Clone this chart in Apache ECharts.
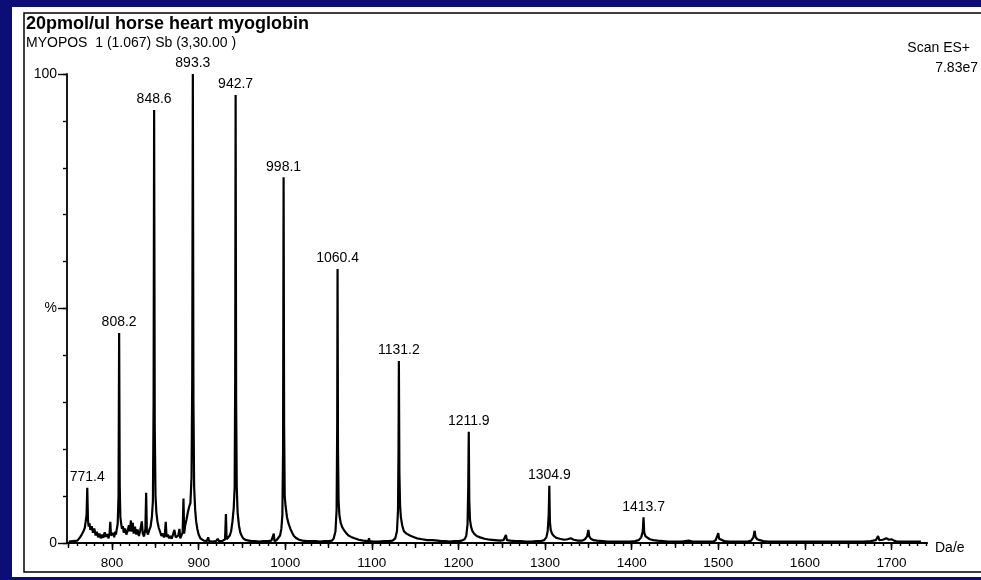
<!DOCTYPE html>
<html>
<head>
<meta charset="utf-8">
<script src="https://cdn.jsdelivr.net/npm/echarts/dist/echarts.min.js"></script>
<style>html,body{margin:0;padding:0;background:#0d0d78;}#c{width:981px;height:580px;}</style>
</head>
<body>
<div id="c"></div>
<script>
// ---- data ----
var titleText = '20pmol/ul horse heart myoglobin';
var subtitleText = 'MYOPOS  1 (1.067) Sb (3,30.00 )';
var scanText = 'Scan ES+';
var scaleText = '7.83e7';
var xUnitText = 'Da/e';

var xTickLabels = [800, 900, 1000, 1100, 1200, 1300, 1400, 1500, 1600, 1700];
var yTickLabels = [0, 50, 100];
var yTickNames = ['0', '%', '100'];

// labelled peaks
var peakMz = [771.4, 808.2, 848.6, 893.3, 942.7, 998.1, 1060.4, 1131.2, 1211.9, 1304.9, 1413.7];
var peakIntensity = [11.8, 44.8, 92.3, 100, 95.5, 78.0, 58.4, 38.8, 23.7, 12.2, 5.5];

// profile trace (m/z, % intensity)
var profileMz = [
 750,755,760,763,765,767,768.5,769.5,770.6,771.4,772.2,773,774,775,776.5,778,779.5,781,782.5,784,785.5,787,788.5,790,791.5,793,794.5,796,797.2,798,798.8,800,801.5,802.5,803.5,804.5,805.5,806.5,807.5,808.2,808.9,809.6,810.5,811.5,812.5,813.5,815,816.5,818,819.5,820.5,821.8,822.8,824,825,826.5,828,829.5,831,832.5,834.4,835.5,837,838.5,839.4,840.2,841.5,843,844.5,846,847.2,848,848.6,849.3,850.2,851.2,852.5,854,855.5,857,858.5,860,861,862,863,864.5,866,867.5,869,870.5,872,872.8,873.5,875,876.5,877.8,878.8,880,881.5,882.5,883.3,884.5,886,887.5,889,890.5,891.8,892.6,893.3,894,894.8,896,897.2,898.5,900,902,904,906,908,909.5,911,912,914,916,918,920,922,923.5,925,927,929,930.5,931.5,932.3,934,936,937.5,939,940.5,941.6,942.2,942.7,943.3,944,945,946.5,948,950,952,955,958,961,965,970,975,980,984,986,986.8,987.5,990,992,994,995.5,996.7,997.5,998.1,998.7,999.4,1000.3,1002,1004,1006,1008,1010,1013,1016,1020,1025,1030,1035,1040,1045,1050,1054,1056,1058,1059.3,1060,1060.4,1060.9,1061.6,1062.5,1064,1066,1068,1070,1073,1076,1080,1085,1090,1096,1096.7,1097.4,1102,1108,1114,1119,1124,1127,1129,1130.2,1130.8,1131.2,1131.8,1132.6,1133.5,1135,1137,1140,1144,1148,1152,1158,1164,1170,1170.4,1171,1176,1180,1185,1190,1195,1200,1204,1207,1209,1210.5,1211.3,1211.9,1212.5,1213.3,1214.5,1216,1218,1221,1225,1230,1236,1242,1248,1252,1254.8,1256,1260,1266,1272,1278,1284,1290,1295,1299,1301.5,1303,1304.2,1304.9,1305.6,1306.5,1308,1310,1313,1317,1322,1326,1329.7,1333,1338,1343,1346,1348.5,1350,1351,1353,1356,1360,1366,1372,1378,1385,1392,1398,1404,1408,1411,1412.8,1413.7,1414.5,1416,1418,1421,1425,1430,1436,1442,1450,1458,1466,1470,1478,1486,1494,1497,1499,1500,1501,1503,1507,1513,1520,1527,1534,1538,1540.5,1542,1543,1545,1548,1552,1558,1565,1572,1580,1588,1596,1604,1612,1620,1628,1636,1644,1652,1660,1668,1676,1682,1684.5,1686,1687,1690,1694,1697,1700,1703,1706,1710,1716,1722,1728,1734,1740
];
var profileIntensity = [
 0.3,0.4,0.5,1.2,1.8,2.5,3.2,4.5,6,11.8,5,3.5,4.2,2.8,3.6,2.2,3.1,1.6,2.4,1.2,2.0,1.0,1.8,1.1,2.3,1.3,1.9,1.0,2.2,4.5,1.6,1.4,2.1,1.2,2.4,1.8,3.0,4.0,10,44.8,12,5.5,4.2,3.0,3.6,2.2,3.1,1.8,2.6,3.8,2.5,4.8,2.4,4.3,2.0,3.5,1.8,2.9,1.5,2.6,4.6,2.0,1.4,3.0,10.7,2.5,1.8,2.8,3.5,5.5,9,30,92.3,25,10,6.5,4.5,3.2,2.4,1.5,2.0,1.2,1.9,4.5,1.3,1.8,1.0,1.5,0.9,1.3,2.8,3.0,1.2,1.0,1.6,3.0,1.0,1.6,2.2,9.5,2.0,3.8,5,6.5,7.7,8.5,14,35,100,30,12,7,4.5,3.0,1.8,1.0,0.6,0.5,0.6,0.4,1.2,0.4,0.5,0.3,0.6,0.4,0.9,0.4,0.5,0.4,0.5,0.8,6.2,0.8,1.0,1.6,2.5,4.5,7.4,12,35,95.5,30,12,6.5,3.8,2.3,1.4,0.9,0.6,0.5,0.4,0.4,0.3,0.4,0.4,0.5,0.4,2.0,0.4,0.6,0.9,1.6,3,6,20,78,25,10,8,5.5,4,3,2.2,1.5,1.0,0.7,0.5,0.4,0.4,0.4,0.3,0.4,0.4,0.5,1.0,2.5,7,25,58.4,20,9,6,4.3,3.3,2.7,2.2,1.6,1.3,1.0,0.7,0.5,0.4,1.0,0.4,0.3,0.3,0.4,0.4,0.5,1.0,2.5,7,20,38.8,15,8,5.5,3.8,2.5,2.0,1.6,1.3,1.0,0.8,0.6,0.6,1.0,0.5,0.5,0.4,0.4,0.3,0.4,0.4,0.5,0.8,1.5,4,12,23.7,9,5,3.5,2.6,2.0,1.5,1.2,0.9,0.7,0.6,0.5,0.6,1.7,0.6,0.5,0.4,0.4,0.3,0.3,0.4,0.4,0.6,1.2,2.5,6,12.2,4.5,2.8,2.0,1.5,1.1,0.9,0.7,0.8,1.0,0.7,0.5,0.5,0.8,1.4,2.8,1.4,0.9,0.6,0.5,0.4,0.3,0.3,0.3,0.3,0.3,0.4,0.6,1.2,2.5,5.5,2.2,1.4,1.0,0.8,0.6,0.5,0.4,0.3,0.3,0.3,0.5,0.3,0.3,0.3,0.3,0.6,1.0,2.1,0.9,0.6,0.4,0.3,0.3,0.3,0.3,0.5,1.2,2.6,1.3,0.8,0.6,0.4,0.3,0.3,0.3,0.3,0.3,0.3,0.3,0.3,0.3,0.3,0.3,0.3,0.3,0.3,0.3,0.4,0.6,1.5,0.6,0.5,0.7,1.0,0.7,0.8,0.5,0.3,0.3,0.3,0.3,0.3,0.3
];

// ---- chart ----
var FONT = '"Liberation Sans", Arial, sans-serif';
var profile = profileMz.map(function (m, i) { return [m, profileIntensity[i]]; });
var peaks = peakMz.map(function (m, i) { return [m, peakIntensity[i]]; });

var X_MIN = 748, X_MAX = 1741;
var x10 = [], x50 = [], y10 = [];
for (var v = 750; v <= 1740; v += 10) x10.push(v);
for (var w = 750; w <= 1740; w += 50) x50.push(w);
for (var u = 0; u <= 100; u += 10) y10.push(u);

var chart = echarts.init(document.getElementById('c'), null, { renderer: 'canvas' });

function xAxisBase(ticks, len, labels) {
  return {
    type: 'value', min: X_MIN, max: X_MAX, position: 'bottom',
    splitLine: { show: false },
    axisLine: { show: true, lineStyle: { color: '#000', width: 1.6 } },
    axisTick: { show: true, customValues: ticks, length: len, lineStyle: { color: '#000', width: 1.4 } },
    axisLabel: labels ? {
      show: true, customValues: xTickLabels, margin: 13, color: '#000', fontSize: 13.5, fontFamily: FONT,
      formatter: function (val) { return String(val); }
    } : { show: false }
  };
}

chart.setOption({
  animation: false,
  backgroundColor: '#0d0d78',
  grid: { left: 67, right: 54, top: 74, bottom: 37, containLabel: false },
  xAxis: [xAxisBase(xTickLabels, 7, true), xAxisBase(x50, 5, false), xAxisBase(x10, 3, false)],
  yAxis: [
    {
      type: 'value', min: 0, max: 100, position: 'left',
      splitLine: { show: false },
      axisLine: { show: true, lineStyle: { color: '#000', width: 1.8 } },
      axisTick: { show: true, customValues: yTickLabels, length: 9, lineStyle: { color: '#000', width: 1.4 } },
      axisLabel: {
        show: true, customValues: yTickLabels, margin: 10, color: '#000', fontSize: 14, fontFamily: FONT,
        formatter: function (val) { var k = yTickLabels.indexOf(val); return k >= 0 ? yTickNames[k] : ''; }
      }
    },
    {
      type: 'value', min: 0, max: 100, position: 'left',
      splitLine: { show: false },
      axisLine: { show: false },
      axisTick: { show: true, customValues: y10, length: 4, lineStyle: { color: '#000', width: 1.4 } },
      axisLabel: { show: false }
    }
  ],
  graphic: [
    { type: 'rect', z: -10, silent: true, shape: { x: 12, y: 7, width: 975, height: 570 }, style: { fill: '#ffffff' } },
    { type: 'rect', z: -9, silent: true, shape: { x: 24, y: 13, width: 970, height: 559 }, style: { fill: 'none', stroke: '#000', lineWidth: 1.5 } },
    { type: 'text', left: 26, top: 15, style: { text: titleText, font: 'bold 18px ' + FONT, fill: '#000' } },
    { type: 'text', left: 26, top: 36, style: { text: subtitleText, font: '14px ' + FONT, fill: '#000' } },
    { type: 'text', x: 970, y: 48, style: { text: scanText, font: '14px ' + FONT, fill: '#000', align: 'right', verticalAlign: 'middle' } },
    { type: 'text', x: 978, y: 68, style: { text: scaleText, font: '14px ' + FONT, fill: '#000', align: 'right', verticalAlign: 'middle' } },
    { type: 'text', x: 935, y: 548, style: { text: xUnitText, font: '14px ' + FONT, fill: '#000', align: 'left', verticalAlign: 'middle' } }
  ],
  series: [
    {
      type: 'line', data: profile, showSymbol: false, symbol: 'none', clip: true, smooth: false,
      lineStyle: { color: '#000', width: 2.2 }, z: 3
    },
    {
      type: 'scatter', data: peaks, symbolSize: 1, itemStyle: { color: 'rgba(0,0,0,0)', opacity: 1 },
      label: {
        show: true, position: 'top', distance: 3, color: '#000', opacity: 1, fontSize: 14, fontFamily: FONT,
        formatter: function (p) { return p.value[0].toFixed(1); }
      },
      labelLayout: { hideOverlap: false }, z: 4
    }
  ]
});
</script>
</body>
</html>
